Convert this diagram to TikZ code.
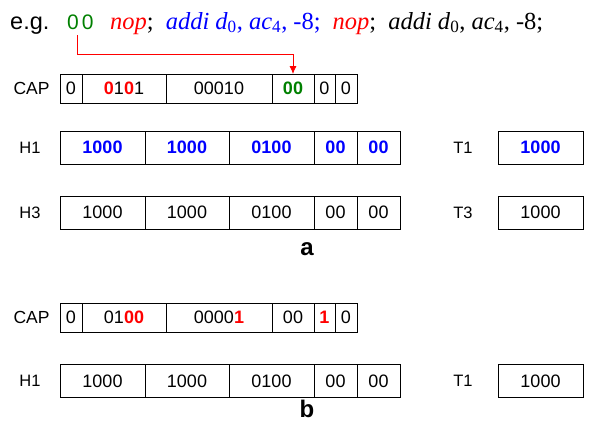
\documentclass[tikz,border=0pt]{standalone}
\usepackage{fontspec}
\setmainfont{Liberation Serif}
\setsansfont{Liberation Sans}
\usetikzlibrary{positioning,arrows.meta}

\definecolor{bitred}{RGB}{255,0,0}
\definecolor{bitgreen}{RGB}{0,128,0}
\definecolor{bitblue}{RGB}{0,0,255}
\newcommand{\rbit}[1]{\textcolor{bitred}{\bfseries #1}}
\newcommand{\bbit}[1]{\textcolor{bitblue}{\bfseries #1}}
\newcommand{\gbit}[1]{\textcolor{bitgreen}{\bfseries #1}}

\begin{document}
\begin{tikzpicture}[x=1pt, y=-1pt, font=\sffamily\fontsize{18}{20}\selectfont,
    cell/.style={draw, line width=0.8pt, inner sep=0pt, outer sep=0pt, minimum height=29pt},
    hcell/.style={cell, minimum height=33pt},
    lbl/.style={inner sep=0pt, font=\sffamily\fontsize{16.5}{18}\selectfont},
    caplbl/.style={inner sep=0pt, font=\sffamily\fontsize{17.5}{19}\selectfont},
    flow/.style={color=bitred, line width=0.8pt, -{Latex[length=8pt,width=7pt]}},
    sub/.style={font=\sffamily\bfseries\fontsize{24}{26}\selectfont}]
\useasboundingbox (0,0) rectangle (592,423);

% the instruction line
\node[inner sep=0pt, anchor=base west, font=\sffamily\fontsize{23.5}{25}\selectfont] (eg) at (10,29) {e.g.};
\node[inner sep=0pt, anchor=base west, font=\sffamily\fontsize{21}{23}\selectfont] (g00) at (67,29) {\textcolor{bitgreen}{0\hspace{3pt}0}};
\node[inner sep=0pt, anchor=base west, font=\rmfamily\fontsize{24.5}{26}\selectfont] (code) at (110,29)
  {\textcolor{bitred}{\textit{nop}};\hspace{12pt}\textcolor{bitblue}{\textit{addi d}\textsubscript{0}, \textit{ac}\textsubscript{4}, -8;}\hspace{12pt}\textcolor{bitred}{\textit{nop}};\hspace{12pt}\textit{addi d}\textsubscript{0}, \textit{ac}\textsubscript{4}, -8;};

% (a)
\node[caplbl] (capa) at (31.5,88.5) {CAP};
\foreach \l/\r/\t [count=\i] in {60/82/0, 82/166/{\rbit{0}1\rbit{0}1}, 166/272/00010, 272/314/{\gbit{00}}, 314/335/0, 335/357/0}
  \node[cell, minimum width={(\r-\l)*1pt}] (capa\i) at ({(\l+\r)/2},88.5) {\t};

\node[lbl] (ha1) at (30,147.5) {H1};
\foreach \l/\r/\t [count=\i] in {60/145/1000, 145/229/1000, 229/314/0100, 314/357/00, 357/400/00}
  \node[hcell, minimum width={(\r-\l)*1pt}] (ha1\i) at ({(\l+\r)/2},147.5) {\bbit{\t}};
\node[lbl] (ta1) at (463,147.5) {T1};
\node[hcell, minimum width=85pt] (ta1b) at (540.5,147.5) {\bbit{1000}};

\node[lbl] (ha3) at (30,212.5) {H3};
\foreach \l/\r/\t [count=\i] in {60/145/1000, 145/229/1000, 229/314/0100, 314/357/00, 357/400/00}
  \node[hcell, minimum width={(\r-\l)*1pt}] (ha3\i) at ({(\l+\r)/2},212.5) {\t};
\node[lbl] (ta3) at (463,212.5) {T3};
\node[hcell, minimum width=85pt] (ta3b) at (540.5,212.5) {1000};

\node[sub] (suba) at (307,249) {a};

\draw[flow] ([xshift=-3pt,yshift=-6pt]g00.south) -- ([xshift=-3pt,yshift=-25pt]g00.south) -| (capa4.north);

% (b)
\node[caplbl] (capb) at (31.5,317.5) {CAP};
\foreach \l/\r/\t [count=\i] in {60/82/0, 82/166/{01\rbit{00}}, 166/272/{0000\rbit{1}}, 272/314/00, 314/335/{\rbit{1}}, 335/357/0}
  \node[cell, minimum width={(\r-\l)*1pt}] (capb\i) at ({(\l+\r)/2},317.5) {\t};

\node[lbl] (hb1) at (30,381) {H1};
\foreach \l/\r/\t [count=\i] in {60/145/1000, 145/229/1000, 229/314/0100, 314/357/00, 357/400/00}
  \node[hcell, minimum width={(\r-\l)*1pt}] (hb1\i) at ({(\l+\r)/2},381) {\t};
\node[lbl] (tb1) at (463,381) {T1};
\node[hcell, minimum width=85pt] (tb1b) at (540.5,381) {1000};

\node[sub] (subb) at (307,409) {b};
\end{tikzpicture}
\end{document}
